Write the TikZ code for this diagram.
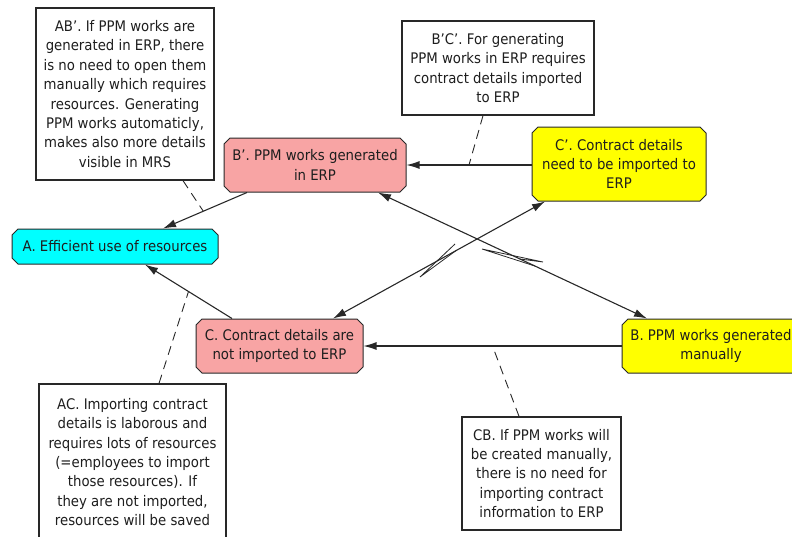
\documentclass[tikz,border=0pt]{standalone}
\usepackage{fontspec}
\setmainfont{DejaVu Sans}[FakeStretch=0.91]
\usetikzlibrary{shapes.misc,arrows.meta}
\definecolor{claimpink}{RGB}{248,164,164}
\definecolor{goalcyan}{RGB}{0,255,255}
\definecolor{reqyellow}{RGB}{255,255,0}
\definecolor{edgegray}{RGB}{40,40,40}
\definecolor{inkgray}{RGB}{30,30,30}
\begin{document}
\begin{tikzpicture}[x=1pt,y=-1pt,
  txt/.style={font=\fontsize{14.6}{19.4}\selectfont, text=inkgray},
  entity/.style={chamfered rectangle, chamfered rectangle xsep=3pt,
    chamfered rectangle ysep=3pt, draw=edgegray, line width=1pt,
    align=center, inner sep=0pt, txt},
  note/.style={rectangle, draw=edgegray, line width=1.3pt, fill=white,
    align=center, inner sep=0pt, txt},
  tip/.style={Latex[length=13pt,width=8pt]},
  link/.style={draw=edgegray, line width=1.1pt, -{Latex[length=13pt,width=8pt]}},
  conflict/.style={draw=edgegray, line width=1.1pt,
    {Latex[length=13pt,width=8pt]}-{Latex[length=13pt,width=8pt]}},
  callout/.style={draw=edgegray, line width=0.9pt, dash pattern=on 9pt off 6pt},
  bolt/.style={draw=edgegray, line width=0.8pt, line join=miter}]
\useasboundingbox (0,0) rectangle (792,536);

% entities of the cloud
\node[entity, fill=goalcyan, minimum width=206pt, minimum height=35pt]
  (A) at (115,246.5) {A. Efficient use of resources};
\node[entity, fill=claimpink, minimum width=182pt, minimum height=54pt]
  (Bp) at (315,165) {B'. PPM works generated\\in ERP};
\node[entity, fill=reqyellow, minimum width=174pt, minimum height=74pt]
  (Cp) at (619,164) {C'. Contract details\\need to be imported to\\ERP};
\node[entity, fill=claimpink, minimum width=167pt, minimum height=54pt]
  (C) at (279.5,346) {C. Contract details are\\not imported to ERP};
\node[entity, fill=reqyellow, minimum width=178pt, minimum height=54pt]
  (B) at (711,346) {B. PPM works generated\\manually};

% assumption notes
\node[note, minimum width=178pt, minimum height=172pt] (ABp) at (125,94)
  {AB'. If PPM works are\\generated in ERP, there\\is no need to open them\\manually which requires\\resources. Generating\\PPM works automaticly,\\makes also more details\\visible in MRS};
\node[note, minimum width=192pt, minimum height=94pt] (BpCp) at (498,68)
  {B'C'. For generating\\PPM works in ERP requires\\contract details imported\\to ERP};
\node[note, minimum width=187pt, minimum height=156pt] (AC) at (132.5,462)
  {AC. Importing contract\\details is laborous and\\requires lots of resources\\(=employees to import\\those resources). If\\they are not imported,\\resources will be saved};
\node[note, minimum width=159pt, minimum height=113pt] (CB) at (541.5,473.5)
  {CB. If PPM works will\\be created manually,\\there is no need for\\importing contract\\information to ERP};

% necessity arrows
\draw[link] ([xshift=-68pt]Bp.south) -- coordinate[pos=0.52] (mABp) ([xshift=48pt]A.north);
\draw[link] ([xshift=-47.5pt]C.north) -- coordinate[pos=0.5] (mAC) ([xshift=30pt]A.south);
\draw[link] (Cp.west |- Bp.east) -- coordinate[pos=0.5] (mBpCp) (Bp.east);
\draw[link] (B.west) -- coordinate[pos=0.5] (mCB) (C.east);

% conflict arrows with lightning marks
\draw[conflict] ([xshift=53.5pt]C.north) -- coordinate[pos=0.49] (k1a) coordinate[pos=0.58] (k1b) ([xshift=-74pt]Cp.south);
\draw[conflict] ([xshift=63pt]Bp.south) -- coordinate[pos=0.528] (k2a) coordinate[pos=0.584] (k2b) ([xshift=-64pt]B.north);
\coordinate (k1t) at (455,244);
\coordinate (k1u) at (420,277);
\coordinate (k2t) at (543,262);
\coordinate (k2u) at (482,249);
\draw[bolt] (k1a) -- (k1t) -- (k1u) -- (k1b);
\draw[bolt] (k2a) -- (k2t) -- (k2u) -- (k2b);

% callouts from notes to arrows
\draw[callout] ([xshift=58pt]ABp.south) -- (mABp);
\draw[callout] ([xshift=-15pt]BpCp.south) -- (mBpCp);
\draw[callout] ([xshift=26.5pt]AC.north) -- (mAC);
\draw[callout] ([xshift=-22.5pt]CB.north) -- (mCB);
\end{tikzpicture}
\end{document}
